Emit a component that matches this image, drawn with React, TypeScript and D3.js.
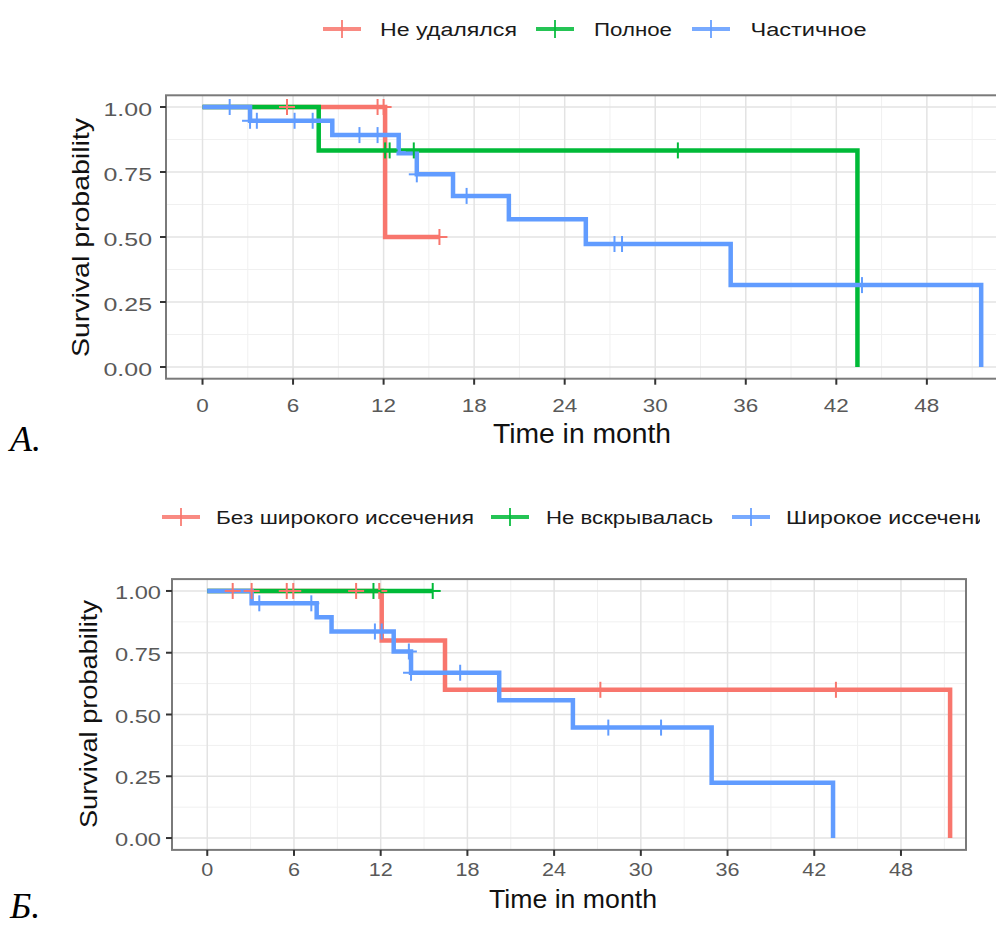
import React from "react";
import * as d3 from "d3";

const COLORS = ["#F8766D", "#00BA38", "#619CFF"];
const X_TICKS = [0, 6, 12, 18, 24, 30, 36, 42, 48];
const X_MINOR = [3, 9, 15, 21, 27, 33, 39, 45, 51];
const Y_TICKS = [0, 0.25, 0.5, 0.75, 1];
const Y_TICK_LABELS = ["0.00", "0.25", "0.50", "0.75", "1.00"];
const Y_MINOR = [0.125, 0.375, 0.625, 0.875];
const X_TITLE = "Time in month";
const Y_TITLE = "Survival probability";

// Panel A
const A_LEGEND = ["Не удалялся", "Полное", "Частичное"];
const A_RED_T = [0, 12.1, 15.7];
const A_RED_S = [1, 0.5, 0.5];
const A_RED_C = [5.6, 11.6, 12.0, 15.7];
const A_GREEN_T = [0, 7.7, 43.4];
const A_GREEN_S = [1, 0.833, 0];
const A_GREEN_C = [12.1, 12.4, 14.0, 31.5];
const A_BLUE_T = [0, 3.15, 8.6, 13.0, 14.2, 16.6, 20.3, 25.4, 35.0, 51.6];
const A_BLUE_S = [1, 0.947, 0.892, 0.822, 0.741, 0.658, 0.568, 0.473, 0.315, 0];
const A_BLUE_C = [1.8, 3.15, 3.6, 6.1, 7.3, 10.4, 11.6, 14.2, 17.5, 27.3, 27.8, 43.7];

// Panel B
const B_LEGEND = ["Без широкого иссечения", "Не вскрывалась", "Широкое иссечение"];
const B_RED_T = [0, 12.07, 16.45, 51.4];
const B_RED_S = [1, 0.8, 0.6, 0];
const B_RED_C = [1.76, 3.07, 5.5, 5.95, 10.3, 11.9, 27.2, 43.5];
const B_GREEN_T = [0, 15.6];
const B_GREEN_S = [1, 1];
const B_GREEN_C = [11.5, 15.6];
const B_BLUE_T = [0, 3.07, 7.57, 8.6, 12.9, 14.1, 20.2, 25.3, 34.9, 43.3];
const B_BLUE_S = [1, 0.95, 0.894, 0.836, 0.755, 0.669, 0.558, 0.447, 0.224, 0];
const B_BLUE_C = [3.6, 7.2, 11.6, 12.07, 13.95, 14.1, 17.5, 27.75, 31.4];

const LAYOUT_A = {
  id: "a",
  xDom: [-2.42, 54], xRange: [166, 1017.4],
  yDom: [-0.045, 1.045], yRange: [378.7, 95.3],
  tickFont: 19, yLabelRight: 152, yLabelW: 48.5, xLabelBase: 412, xLabelW1: 12.5, xLabelW2: 25,
  xTitle: { x: 582, y: 443, size: 27, w: 178 },
  yTitle: { x: 89, y: 237.5, size: 24, w: 239 },
  legendY: 29, legendKeys: [342, 555, 711], legendText: [380, 594, 750.5], legendW: [137, 78, 116],
  legendSize: 18, legendBase: 36,
  tag: "А.", tagX: 10, tagY: 451,
  clipRight: 996,
};

const LAYOUT_B = {
  id: "b",
  xDom: [-2.44, 52.5], xRange: [172, 966],
  yDom: [-0.048, 1.048], yRange: [849.9, 579.1],
  tickFont: 18, yLabelRight: 161, yLabelW: 46, xLabelBase: 876, xLabelW1: 12, xLabelW2: 24,
  xTitle: { x: 573, y: 908, size: 26, w: 168 },
  yTitle: { x: 97, y: 714, size: 23, w: 228 },
  legendY: 517, legendKeys: [181, 510, 751], legendText: [216, 546, 786], legendW: [258, 167, 214],
  legendSize: 18, legendBase: 524,
  tag: "Б.", tagX: 10, tagY: 918,
  clipRight: 980,
};

const FONT = "'Liberation Sans', Arial, Helvetica, sans-serif";

function survAt(times: number[], surv: number[], t: number) {
  let v = surv[0];
  for (let i = 0; i < times.length; i++) if (times[i] <= t + 1e-9) v = surv[i];
  return v;
}

type Series = { t: number[]; s: number[]; c: number[] };

function Panel({ L, series, legend }: { L: any; series: Series[]; legend: string[] }) {
  const x = d3.scaleLinear().domain(L.xDom).range(L.xRange);
  const y = d3.scaleLinear().domain(L.yDom).range(L.yRange);
  const line = d3
    .line<[number, number]>()
    .x((d) => x(d[0]))
    .y((d) => y(d[1]))
    .curve(d3.curveStepAfter);
  const left = L.xRange[0], right = L.xRange[1], top = L.yRange[1], bottom = L.yRange[0];
  const cs = 8;
  return (
    <g>
      <defs>
        <clipPath id={`clip-${L.id}`}>
          <rect x={0} y={0} width={L.clipRight} height={927} />
        </clipPath>
      </defs>
      <g clipPath={`url(#clip-${L.id})`}>
        {legend.map((name, i) => (
          <g key={name}>
            <line x1={L.legendKeys[i] - 19} x2={L.legendKeys[i] + 19} y1={L.legendY} y2={L.legendY}
              stroke={COLORS[i]} strokeWidth={4} opacity={0.85} />
            <line x1={L.legendKeys[i]} x2={L.legendKeys[i]} y1={L.legendY - 9} y2={L.legendY + 9}
              stroke={COLORS[i]} strokeWidth={2} opacity={0.85} />
            <text x={L.legendText[i]} y={L.legendBase} fontSize={L.legendSize} fontFamily={FONT}
              fill="#1a1a1a" textLength={L.legendW[i]} lengthAdjust="spacingAndGlyphs">{name}</text>
          </g>
        ))}
        <rect x={left} y={top} width={right - left} height={bottom - top} fill="#fff" />
        {Y_MINOR.map((v) => (
          <line key={`ym${v}`} x1={left} x2={right} y1={y(v)} y2={y(v)} stroke="#f0f0f0" strokeWidth={1} />
        ))}
        {X_MINOR.map((v) => (
          <line key={`xm${v}`} x1={x(v)} x2={x(v)} y1={top} y2={bottom} stroke="#f0f0f0" strokeWidth={1} />
        ))}
        {Y_TICKS.map((v) => (
          <line key={`yg${v}`} x1={left} x2={right} y1={y(v)} y2={y(v)} stroke="#e3e3e3" strokeWidth={1.5} />
        ))}
        {X_TICKS.map((v) => (
          <line key={`xg${v}`} x1={x(v)} x2={x(v)} y1={top} y2={bottom} stroke="#e3e3e3" strokeWidth={1.5} />
        ))}
        {series.map((sr, i) => (
          <path key={`p${i}`} d={line(sr.t.map((t, k) => [t, sr.s[k]] as [number, number])) || ""}
            fill="none" stroke={COLORS[i]} strokeWidth={4.5} strokeLinejoin="miter" />
        ))}
        {series.map((sr, i) =>
          sr.c.map((t, k) => {
            const px = x(t), py = y(survAt(sr.t, sr.s, t));
            return (
              <g key={`c${i}-${k}`} stroke={COLORS[i]} strokeWidth={2}>
                <line x1={px - cs} x2={px + cs} y1={py} y2={py} />
                <line x1={px} x2={px} y1={py - cs} y2={py + cs} />
              </g>
            );
          })
        )}
        <rect x={left} y={top} width={right - left} height={bottom - top} fill="none" stroke="#7a7a7a" strokeWidth={2} />
        {Y_TICKS.map((v, i) => (
          <g key={`yt${v}`}>
            <line x1={left - 6} x2={left} y1={y(v)} y2={y(v)} stroke="#333" strokeWidth={2} />
            <text x={L.yLabelRight} y={y(v) + 2} textAnchor="end" dominantBaseline="central"
              fontSize={L.tickFont} fontFamily={FONT} fill="#595959"
              textLength={L.yLabelW} lengthAdjust="spacingAndGlyphs">{Y_TICK_LABELS[i]}</text>
          </g>
        ))}
        {X_TICKS.map((v) => (
          <g key={`xt${v}`}>
            <line x1={x(v)} x2={x(v)} y1={bottom} y2={bottom + 6} stroke="#333" strokeWidth={2} />
            <text x={x(v)} y={L.xLabelBase} textAnchor="middle" fontSize={L.tickFont} fontFamily={FONT}
              fill="#595959" textLength={String(v).length > 1 ? L.xLabelW2 : L.xLabelW1}
              lengthAdjust="spacingAndGlyphs">{String(v)}</text>
          </g>
        ))}
        <text x={L.xTitle.x} y={L.xTitle.y} textAnchor="middle" fontSize={L.xTitle.size} fontFamily={FONT}
          fill="#111" textLength={L.xTitle.w} lengthAdjust="spacingAndGlyphs">{X_TITLE}</text>
        <text transform={`translate(${L.yTitle.x},${L.yTitle.y}) rotate(-90)`} textAnchor="middle"
          fontSize={L.yTitle.size} fontFamily={FONT} fill="#111" textLength={L.yTitle.w}
          lengthAdjust="spacingAndGlyphs">{Y_TITLE}</text>
      </g>
      <text x={L.tagX} y={L.tagY} fontSize={36} fontStyle="italic"
        fontFamily="'Liberation Serif', 'Times New Roman', serif" fill="#000">{L.tag}</text>
    </g>
  );
}

export default function App() {
  const seriesA: Series[] = [
    { t: A_RED_T, s: A_RED_S, c: A_RED_C },
    { t: A_GREEN_T, s: A_GREEN_S, c: A_GREEN_C },
    { t: A_BLUE_T, s: A_BLUE_S, c: A_BLUE_C },
  ];
  const seriesB: Series[] = [
    { t: B_RED_T, s: B_RED_S, c: B_RED_C },
    { t: B_GREEN_T, s: B_GREEN_S, c: B_GREEN_C },
    { t: B_BLUE_T, s: B_BLUE_S, c: B_BLUE_C },
  ];
  return (
    <svg width={996} height={927} style={{ position: "absolute", left: 0, top: 0, background: "#fff" }}>
      <rect x={0} y={0} width={996} height={927} fill="#fff" />
      <Panel L={LAYOUT_A} series={seriesA} legend={A_LEGEND} />
      <Panel L={LAYOUT_B} series={seriesB} legend={B_LEGEND} />
    </svg>
  );
}
